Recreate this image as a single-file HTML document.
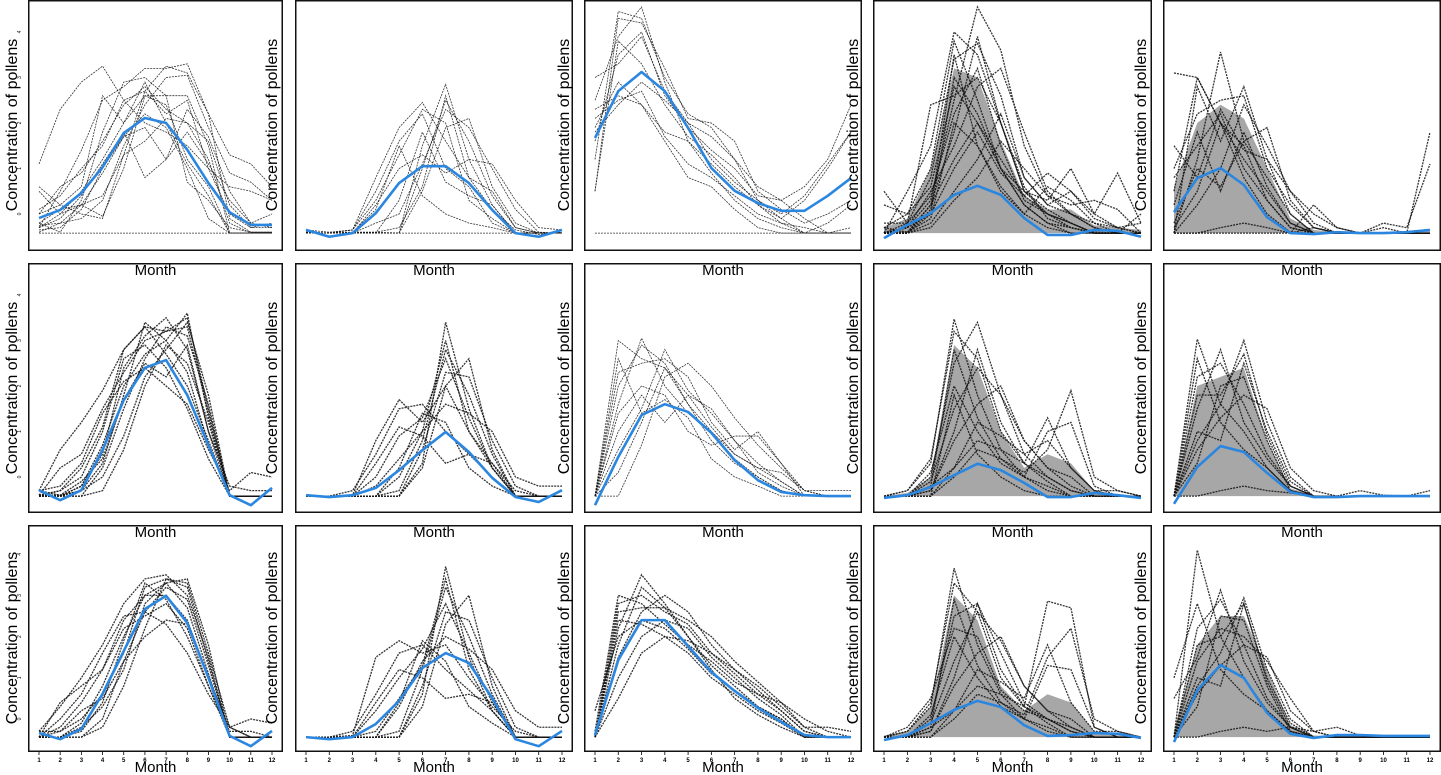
<!DOCTYPE html>
<html><head><meta charset="utf-8"><style>
html,body{margin:0;padding:0;background:#fff;}
svg{display:block;font-family:"Liberation Sans",Arial,sans-serif;}
</style></head><body>
<svg id="chart" width="1441" height="775" viewBox="0 0 1441 775" xmlns="http://www.w3.org/2000/svg"></svg>
<script>
// ---- data (concentration units) ----
const months = [1,2,3,4,5,6,7,8,9,10,11,12];
const yTicks = [0,1,2,3,4];
const mean1 = [-0.09,0.09,0.46,1.03,1.78,2.11,2.0,1.41,0.68,0.04,-0.24,-0.24];
const mean2 = [-0.35,-0.5,-0.42,0.02,0.68,1.05,1.05,0.68,0.09,-0.42,-0.5,-0.35];
const mean3 = [1.67,2.70,3.12,2.70,1.89,1.01,0.51,0.24,0.07,0.07,0.40,0.79];
const mean4 = [-0.53,-0.24,0.02,0.42,0.62,0.42,-0.09,-0.46,-0.46,-0.35,-0.37,-0.5];
const mean5 = [0.04,0.79,1.01,0.64,-0.07,-0.42,-0.44,-0.40,-0.42,-0.42,-0.40,-0.35];
const mean6 = [-0.29,-0.51,-0.29,0.59,1.69,2.40,2.57,1.80,0.70,-0.40,-0.62,-0.24];
const mean7 = [-0.4,-0.44,-0.4,-0.24,0.15,0.59,0.99,0.55,-0.02,-0.44,-0.55,-0.29];
const mean8 = [-0.62,0.44,1.36,1.60,1.43,0.97,0.37,-0.07,-0.33,-0.40,-0.42,-0.42];
const mean9 = [-0.46,-0.4,-0.22,0.04,0.29,0.15,-0.13,-0.44,-0.44,-0.35,-0.4,-0.46];
const mean10 = [-0.59,0.22,0.68,0.55,0.09,-0.33,-0.44,-0.44,-0.42,-0.42,-0.42,-0.42];
const mean11 = [-0.34,-0.49,-0.24,0.61,1.65,2.67,2.99,2.33,1.0,-0.41,-0.66,-0.29];
const mean12 = [-0.44,-0.49,-0.44,-0.12,0.44,1.24,1.6,1.36,0.51,-0.49,-0.66,-0.29];
const mean13 = [-0.39,1.43,2.4,2.4,1.77,1.14,0.68,0.27,-0.07,-0.39,-0.44,-0.44];
const mean14 = [-0.51,-0.39,-0.1,0.22,0.44,0.29,-0.15,-0.41,-0.39,-0.34,-0.36,-0.46];
const mean15 = [-0.56,0.70,1.31,1.0,0.15,-0.36,-0.46,-0.39,-0.39,-0.41,-0.41,-0.41];

// dense-core upper envelopes (null = no core)
const core4 = [-0.3,-0.1,1.0,3.2,3.0,1.6,0.4,0.1,0.1,-0.25,-0.3,-0.35];
const core5 = [0.6,2.0,2.4,2.1,1.0,-0.1,-0.35,-0.4,-0.4,-0.4,-0.4,-0.38];
const core9 = [-0.42,-0.35,0.0,2.9,2.4,1.0,0.2,0.5,0.3,-0.3,-0.38,-0.42];
const core10 = [-0.42,2.0,2.2,2.4,0.8,-0.25,-0.4,-0.42,-0.42,-0.42,-0.42,-0.42];
const core14 = [-0.4,-0.3,0.3,3.0,2.4,0.8,0.2,0.6,0.4,-0.3,-0.4,-0.44];
const core15 = [-0.3,1.8,2.5,2.5,1.2,-0.15,-0.4,-0.42,-0.42,-0.44,-0.44,-0.44];
const baselines = [-0.42,-0.42,-0.44];

const lines1 = [
[1.1,2.3,2.9,3.25,2.5,2.0,1.8,1.5,1.0,0.6,0.5,0.3],
[0.6,0.2,0,-0.1,1.3,2.7,3.25,3.1,2.2,1.3,1.1,0.6],
[-0.3,0.5,1.4,2.5,2.8,3.2,3.2,3.3,2.2,-0.1,-0.4,-0.4],
[-0.2,-0.4,0.3,1.8,2.9,3.0,2.6,2.6,1.5,-0.42,-0.42,-0.42],
[0.1,0.4,1.0,1.5,2.5,2.7,2.2,2.5,1.0,0,-0.3,-0.3],
[-0.3,0,0.5,1.2,2.0,2.6,2.4,1.2,0.6,-0.42,-0.42,-0.42],
[-0.35,-0.3,0.1,1.0,1.7,1.9,1.2,1.8,1.1,0.3,-0.2,0.0],
[0.0,0.6,0.9,1.6,2.4,2.8,2.3,2.0,1.6,0.2,-0.3,-0.2],
[-0.4,-0.2,0.2,0.4,1.3,1.6,2.1,2.0,1.2,-0.2,-0.42,-0.42],
[-0.2,0.1,0.2,-0.05,1.0,2.6,2.6,0.7,0.3,-0.3,-0.4,-0.4],
[-0.3,-0.1,0.4,1.1,1.8,0.8,1.2,2.3,1.7,0.5,-0.2,-0.3],
[0.0,0.2,0.6,2.6,2.0,2.9,2.0,1.1,0.4,-0.42,-0.42,-0.42],
[-0.42,-0.42,-0.42,-0.42,-0.42,-0.42,-0.42,-0.42,-0.42,-0.42,-0.42,-0.42],
[-0.25,-0.2,-0.1,0.3,1.5,2.4,3.0,3.05,1.9,0.9,0.7,0.3],
[0.5,0.0,0.2,0.9,1.7,2.2,1.9,1.0,-0.1,-0.42,-0.42,-0.42]];
const lines2 = [
[-0.35,-0.4,-0.35,0.8,1.9,2.45,1.6,0.8,0.1,-0.35,-0.45,-0.4],
[-0.4,-0.42,-0.35,0.5,1.6,2.2,1.0,0.6,-0.2,-0.42,-0.42,-0.42],
[-0.42,-0.42,-0.42,-0.42,-0.42,1.5,2.85,1.2,0.2,-0.42,-0.42,-0.42],
[-0.42,-0.42,-0.4,-0.4,-0.42,1.0,2.5,1.6,0.4,-0.3,-0.42,-0.42],
[-0.4,-0.42,-0.35,0.3,1.3,2.3,2.0,0.3,-0.1,-0.42,-0.42,-0.42],
[-0.42,-0.42,-0.42,-0.2,0.0,1.1,2.3,1.9,1.0,0.1,-0.4,-0.42],
[-0.4,-0.42,-0.42,0.2,1.0,1.3,0.9,1.2,1.1,0.3,-0.3,-0.35],
[-0.42,-0.42,-0.42,-0.42,-0.42,0.5,1.9,2.1,0.6,-0.2,-0.42,-0.42],
[-0.42,-0.42,-0.4,0.1,1.5,0.4,0.0,-0.2,-0.3,-0.42,-0.42,-0.42],
[-0.42,-0.42,-0.42,-0.42,0.3,1.8,0.7,0.4,0.2,-0.42,-0.42,-0.42],
[-0.42,-0.42,-0.42,-0.42,-0.42,-0.42,-0.42,-0.42,-0.42,-0.42,-0.42,-0.42],
[-0.42,-0.42,-0.42,-0.4,-0.3,0.6,2.6,0.8,0.5,-0.3,-0.42,-0.42]];
const lines3 = [
[1.2,4.45,4.3,3.0,2.2,1.9,1.2,0.3,-0.1,-0.42,-0.42,-0.42],
[2.5,3.9,4.55,2.9,1.6,0.9,0.3,-0.1,-0.3,-0.42,-0.42,-0.42],
[0.5,4.3,4.2,3.2,2.1,2.0,1.6,0.5,0.1,-0.2,0.0,0.3],
[3.0,3.3,3.9,2.7,2.0,1.2,0.7,0.3,0.0,0.4,1.1,1.8],
[1.8,2.4,2.9,2.5,2.0,1.7,1.2,0.6,0.3,0.6,1.2,2.4],
[2.3,2.6,2.4,1.8,1.6,1.1,0.6,0.2,-0.1,0.3,1.0,1.8],
[1.9,2.9,2.4,1.6,0.8,0.6,0.1,-0.3,-0.42,-0.42,-0.2,0.2],
[0.5,3.8,3.3,2.4,1.7,1.3,0.8,0.2,-0.2,-0.42,-0.42,-0.42],
[2.1,2.5,2.7,1.7,1.1,0.8,0.4,0.0,-0.2,-0.3,-0.42,-0.3],
[1.6,3.5,4.0,2.6,1.9,1.4,1.0,0.4,0.3,-0.1,-0.42,-0.42],
[-0.42,-0.42,-0.42,-0.42,-0.42,-0.42,-0.42,-0.42,-0.42,-0.42,-0.42,-0.42]];
const lines4 = [
[-0.42,0.5,1.5,4.0,3.5,2.0,0.5,0.0,-0.2,-0.42,-0.42,-0.42],
[-0.3,0.0,1.0,3.8,2.5,1.0,0.2,-0.2,-0.3,-0.4,-0.42,-0.42],
[-0.42,-0.2,0.8,3.4,3.75,2.6,0.8,0.2,0.0,-0.3,-0.42,-0.42],
[-0.42,-0.3,0.3,2.5,4.55,3.6,1.5,0.4,0.0,-0.2,-0.3,-0.42],
[0.5,-0.2,2.4,2.6,3.0,2.0,0.6,-0.1,-0.3,-0.42,-0.42,-0.42],
[-0.42,-0.42,0.0,3.0,2.2,1.0,0.2,-0.2,-0.42,-0.42,-0.42,-0.42],
[-0.42,-0.3,0.5,1.5,2.8,3.2,1.8,0.5,0.0,-0.3,-0.42,-0.42],
[-0.4,-0.4,-0.1,2.0,1.5,0.6,0.0,0.6,0.3,-0.2,-0.42,-0.42],
[-0.42,-0.42,0.2,1.2,2.0,1.0,0.5,0.3,1.0,0.0,-0.3,-0.42],
[-0.2,-0.2,0.4,2.2,3.2,1.5,0.3,0.0,-0.2,-0.42,-0.42,-0.42],
[-0.42,-0.42,-0.2,0.5,1.2,2.2,0.8,0.2,0.5,-0.1,-0.3,-0.2],
[-0.42,-0.3,0.0,1.0,1.8,0.9,0.4,0.9,0.5,0.0,0.9,-0.2],
[0.2,0.0,0.6,2.8,2.0,1.2,0.4,0.0,-0.3,-0.42,-0.42,0.0],
[-0.42,-0.42,0.1,3.5,1.5,0.5,0.0,-0.3,-0.42,-0.42,-0.42,-0.42],
[-0.3,-0.4,0.2,1.8,3.9,2.0,0.5,0.1,-0.2,-0.42,-0.42,-0.42],
[-0.42,-0.42,-0.3,0.3,0.8,1.6,1.0,0.4,0.2,0.3,0.1,-0.42]];
const lines5 = [
[3.1,3.0,2.0,1.2,0.5,-0.2,-0.42,-0.42,-0.42,-0.42,-0.42,-0.42],
[0.5,3.0,2.0,1.5,0.3,-0.3,-0.42,-0.42,-0.42,-0.42,-0.42,-0.42],
[-0.42,1.2,3.56,1.6,0.8,0.0,-0.42,-0.42,-0.42,-0.42,-0.42,-0.42],
[1.0,2.2,2.5,2.6,1.0,0.2,-0.3,-0.42,-0.42,-0.42,-0.42,-0.42],
[-0.42,2.8,1.6,2.8,1.2,0.0,-0.42,-0.42,-0.42,-0.42,-0.42,-0.42],
[0.8,1.5,2.2,1.0,0.3,-0.3,-0.42,-0.42,-0.42,-0.42,-0.42,-0.42],
[-0.42,0.2,1.0,2.4,1.5,0.5,-0.2,-0.42,-0.42,-0.42,-0.42,-0.42],
[0.2,1.8,0.5,1.8,0.6,-0.2,-0.42,-0.42,-0.42,-0.42,-0.42,-0.42],
[-0.3,0.5,2.0,0.8,0.0,-0.4,-0.42,-0.42,-0.42,-0.42,-0.42,-0.42],
[1.5,0.8,2.3,1.4,1.2,0.5,0.0,-0.3,-0.42,-0.42,-0.42,-0.42],
[-0.42,-0.42,-0.3,-0.2,-0.3,-0.42,0.2,-0.3,-0.42,-0.3,-0.42,1.8],
[-0.42,-0.42,-0.42,-0.42,-0.42,-0.42,-0.3,-0.4,-0.42,-0.2,-0.3,1.1],
[-0.2,1.0,0.6,1.6,1.9,0.3,-0.3,-0.42,-0.42,-0.42,-0.42,-0.42]];
const lines6 = [
[-0.4,-0.4,-0.3,0.3,1.8,3.4,3.0,3.6,1.3,-0.42,-0.42,-0.42],
[-0.3,0.6,1.2,1.9,2.8,3.3,3.2,3.5,1.5,-0.42,-0.42,-0.42],
[-0.42,-0.42,-0.2,0.5,2.4,3.1,3.5,2.8,1.0,-0.42,-0.42,-0.42],
[-0.4,-0.3,0.0,1.0,2.6,2.9,2.4,1.5,0.4,-0.42,-0.42,-0.42],
[-0.42,-0.42,-0.42,0.2,1.5,2.6,3.3,3.1,1.6,-0.42,-0.42,-0.42],
[-0.3,-0.2,0.3,1.4,2.1,2.4,2.0,1.6,0.6,-0.3,0.1,0.0],
[-0.42,-0.42,-0.3,0.0,0.9,2.2,2.8,3.4,1.8,-0.42,-0.42,-0.42],
[-0.42,-0.3,0.2,1.1,2.8,3.3,2.7,2.0,0.8,-0.42,-0.42,-0.42],
[-0.42,-0.42,-0.42,-0.3,0.6,2.0,2.9,2.5,1.2,-0.42,-0.42,-0.42],
[-0.4,0.2,0.5,1.5,2.3,3.0,3.2,3.3,1.4,-0.42,-0.42,-0.42],
[-0.42,-0.42,-0.2,0.7,2.0,2.7,3.0,2.3,0.7,-0.42,-0.42,-0.42],
[-0.3,-0.4,-0.1,0.4,1.7,2.5,2.2,2.9,1.0,-0.2,-0.3,-0.3]];
const lines7 = [
[-0.42,-0.42,-0.42,-0.42,-0.42,0.3,3.4,1.5,0.2,-0.42,-0.42,-0.42],
[-0.42,-0.42,-0.42,-0.42,-0.3,0.8,2.8,1.8,0.5,-0.42,-0.42,-0.42],
[-0.42,-0.42,-0.4,0.8,1.7,1.2,2.0,1.0,0.3,-0.3,-0.42,-0.42],
[-0.42,-0.42,-0.3,0.5,1.5,1.6,1.0,0.5,0.0,-0.42,-0.42,-0.42],
[-0.42,-0.42,-0.42,-0.42,-0.42,0.6,2.3,2.2,0.8,-0.2,-0.42,-0.42],
[-0.42,-0.42,-0.42,0.0,0.9,1.3,2.6,1.3,0.2,-0.42,-0.42,-0.42],
[-0.42,-0.42,-0.42,-0.42,0.0,1.0,1.6,1.4,1.0,0.0,-0.2,-0.2],
[-0.42,-0.42,-0.42,0.3,1.1,0.9,0.3,0.5,0.3,-0.42,-0.42,-0.42],
[-0.42,-0.42,-0.42,-0.42,-0.42,0.2,2.0,2.6,0.6,-0.42,-0.42,-0.42],
[-0.42,-0.42,-0.42,-0.2,0.4,1.0,3.0,1.0,0.2,-0.42,-0.42,-0.42],
[-0.42,-0.42,-0.42,-0.42,0.2,1.4,1.2,0.2,-0.2,-0.42,-0.42,-0.42]];
const lines8 = [
[-0.42,3.0,2.6,2.4,1.6,0.8,0.3,0.0,-0.3,-0.42,-0.42,-0.42],
[-0.42,1.6,3.05,2.0,1.4,1.0,0.4,0.0,-0.3,-0.42,-0.42,-0.42],
[-0.42,2.3,2.5,2.6,2.2,1.2,0.6,1.0,0.3,-0.3,-0.42,-0.42],
[-0.42,0.6,1.5,2.8,1.9,1.4,0.8,0.3,-0.1,-0.42,-0.42,-0.42],
[-0.42,-0.42,0.7,2.2,2.5,2.0,1.3,0.7,0.2,-0.3,-0.42,-0.42],
[-0.42,1.4,2.0,1.8,1.0,0.7,0.9,0.9,0.3,-0.42,-0.42,-0.42],
[-0.42,2.6,1.4,1.7,1.3,0.4,0.0,-0.2,-0.42,-0.42,-0.42,-0.42],
[-0.42,1.0,1.8,1.2,1.8,1.5,0.8,0.1,-0.2,-0.42,-0.42,-0.42],
[-0.42,2.0,2.9,2.5,1.6,1.0,0.5,0.2,-0.1,-0.42,-0.42,-0.42],
[-0.42,0.1,1.2,2.4,1.8,1.1,0.5,0.2,0.1,-0.3,-0.3,-0.3]];
const lines9 = [
[-0.42,-0.3,0.3,3.47,1.8,0.6,0.0,-0.3,-0.42,-0.42,-0.42,-0.42],
[-0.42,-0.42,0.0,2.5,3.4,1.8,0.5,0.0,-0.3,-0.42,-0.42,-0.42],
[-0.42,-0.3,0.4,3.2,2.6,1.0,0.3,-0.1,-0.42,-0.42,-0.42,-0.42],
[-0.42,-0.42,-0.1,1.5,2.4,1.8,0.8,0.2,-0.2,-0.42,-0.42,-0.42],
[-0.42,-0.42,-0.42,0.2,0.8,0.6,0.3,1.3,0.2,-0.3,-0.42,-0.42],
[-0.42,-0.42,-0.42,0.0,0.6,0.4,0.1,0.6,1.9,0.0,-0.3,-0.42],
[-0.42,-0.42,-0.2,2.8,1.3,0.4,0.0,-0.2,-0.42,-0.42,-0.42,-0.42],
[-0.42,-0.42,-0.3,1.0,2.8,1.2,0.3,0.0,-0.3,-0.42,-0.42,-0.42],
[-0.42,-0.42,0.1,2.0,1.0,0.3,0.0,1.0,1.2,-0.2,-0.42,-0.42],
[-0.42,-0.42,-0.3,0.8,1.6,2.0,0.8,0.2,0.0,-0.42,-0.42,-0.42],
[-0.42,-0.42,-0.42,1.8,0.5,0.0,-0.3,-0.42,-0.42,-0.42,-0.42,-0.42],
[-0.42,-0.42,-0.2,0.2,1.2,0.9,0.5,0.8,0.2,-0.3,-0.3,-0.42]];
const lines10 = [
[-0.42,3.03,1.6,1.0,0.2,-0.3,-0.42,-0.42,-0.42,-0.42,-0.42,-0.42],
[-0.42,1.5,2.8,1.2,0.4,-0.2,-0.42,-0.42,-0.42,-0.42,-0.42,-0.42],
[-0.42,0.8,1.6,3.0,1.2,0.0,-0.42,-0.42,-0.42,-0.42,-0.42,-0.42],
[-0.42,2.2,2.5,1.6,0.5,-0.2,-0.42,-0.42,-0.42,-0.42,-0.42,-0.42],
[-0.42,1.0,0.8,2.5,1.0,-0.1,-0.42,-0.42,-0.42,-0.42,-0.42,-0.42],
[-0.42,0.3,2.0,2.2,0.8,-0.3,-0.42,-0.42,-0.42,-0.42,-0.42,-0.42],
[-0.42,2.6,1.2,0.6,0.2,-0.3,-0.42,-0.42,-0.42,-0.42,-0.42,-0.42],
[-0.42,0.6,1.3,1.8,1.5,0.2,-0.3,-0.42,-0.42,-0.42,-0.42,-0.42],
[-0.42,1.8,1.8,2.7,0.9,-0.2,-0.42,-0.42,-0.42,-0.42,-0.42,-0.42],
[-0.42,-0.42,-0.3,-0.2,-0.3,-0.35,-0.42,-0.42,-0.3,-0.4,-0.42,-0.3]];
const lines11 = [
[-0.44,-0.3,0.0,0.6,1.6,3.2,3.4,3.2,1.4,-0.44,-0.44,-0.44],
[-0.3,0.3,1.0,1.8,2.8,3.4,3.5,3.0,1.5,-0.44,-0.44,-0.44],
[-0.44,-0.44,-0.2,0.3,1.2,2.8,3.3,3.4,1.8,-0.44,-0.44,-0.44],
[-0.44,-0.2,0.4,1.2,2.4,3.0,3.0,2.4,1.0,-0.44,-0.44,-0.44],
[-0.44,-0.44,-0.44,-0.2,0.8,2.2,3.4,3.3,1.6,-0.2,-0.44,-0.44],
[-0.44,0.0,0.6,1.6,2.5,2.6,2.3,1.6,0.6,-0.2,0.0,-0.1],
[-0.44,-0.44,-0.3,0.4,1.9,3.3,2.9,2.0,0.8,-0.44,-0.44,-0.44],
[-0.44,-0.44,-0.44,0.0,1.4,2.6,3.2,2.9,1.3,-0.44,-0.44,-0.44],
[-0.44,0.4,0.8,1.2,2.2,2.5,2.8,2.2,0.8,-0.3,-0.3,-0.44],
[-0.44,-0.44,-0.1,0.8,2.0,3.0,3.3,2.7,1.1,-0.44,-0.44,-0.44],
[-0.3,-0.3,0.2,0.5,1.4,2.0,2.4,2.3,1.0,-0.2,-0.44,-0.44]];
const lines12 = [
[-0.44,-0.44,-0.44,-0.44,-0.44,0.6,3.7,1.5,0.2,-0.44,-0.44,-0.44],
[-0.44,-0.44,-0.44,-0.44,-0.3,1.2,3.2,2.0,0.6,-0.44,-0.44,-0.44],
[-0.44,-0.44,-0.4,1.5,1.9,1.6,1.8,1.0,0.3,-0.3,-0.44,-0.44],
[-0.44,-0.44,-0.3,0.6,1.6,1.8,1.2,0.7,0.2,-0.44,-0.44,-0.44],
[-0.44,-0.44,-0.44,-0.44,-0.44,0.8,2.6,2.4,1.0,-0.2,-0.44,-0.44],
[-0.44,-0.44,-0.44,0.2,1.0,1.7,2.8,1.6,0.4,-0.44,-0.44,-0.44],
[-0.44,-0.44,-0.44,-0.44,0.3,1.4,2.0,1.7,1.2,0.2,-0.2,-0.2],
[-0.44,-0.44,-0.44,0.4,1.2,1.0,0.5,0.6,0.4,-0.44,-0.44,-0.44],
[-0.44,-0.44,-0.44,-0.44,-0.44,0.3,2.3,3.0,0.8,-0.44,-0.44,-0.44],
[-0.44,-0.44,-0.44,-0.3,0.5,1.3,3.4,1.2,0.2,-0.44,-0.44,-0.44],
[-0.44,-0.44,-0.44,-0.44,0.4,1.9,1.4,0.3,-0.1,-0.44,-0.44,-0.44]];
const lines13 = [
[-0.44,2.2,3.5,2.8,2.0,1.3,0.8,0.3,0.0,-0.44,-0.44,-0.44],
[-0.44,2.8,3.0,2.6,2.3,1.6,1.1,0.6,0.2,-0.3,-0.44,-0.44],
[-0.44,1.5,2.6,3.0,2.6,1.8,1.2,0.7,0.2,-0.3,-0.44,-0.44],
[-0.44,2.4,2.3,2.0,1.6,1.0,0.6,0.2,-0.1,-0.44,-0.44,-0.44],
[-0.44,1.0,2.0,2.4,2.2,1.5,1.0,0.5,0.1,-0.44,-0.44,-0.44],
[-0.3,3.0,2.8,2.3,1.8,1.4,0.9,0.6,0.4,0.0,-0.3,-0.44],
[-0.44,1.8,3.2,2.7,2.0,1.2,0.5,0.1,-0.2,-0.44,-0.44,-0.44],
[-0.44,0.5,1.6,2.0,1.9,1.6,1.2,0.8,0.3,-0.2,-0.44,-0.44],
[-0.44,2.6,2.7,2.7,2.4,2.0,1.4,0.9,0.4,-0.2,-0.2,-0.3],
[0.2,2.0,2.4,2.2,1.7,1.1,0.7,0.3,0.0,-0.44,-0.44,-0.44]];
const lines14 = [
[-0.44,-0.3,0.3,3.66,1.8,0.6,0.0,-0.3,-0.44,-0.44,-0.44,-0.44],
[-0.44,-0.44,0.0,2.5,2.8,1.6,0.4,0.0,-0.3,-0.44,-0.44,-0.44],
[-0.44,-0.3,0.4,3.3,2.6,1.0,0.3,-0.1,-0.44,-0.44,-0.44,-0.44],
[-0.44,-0.44,-0.1,1.4,2.6,1.9,0.8,0.2,-0.2,-0.44,-0.44,-0.44],
[-0.44,-0.44,-0.44,0.2,0.8,0.6,0.3,2.86,2.7,-0.2,-0.44,-0.44],
[-0.44,-0.44,-0.44,0.0,0.6,0.4,0.1,1.5,2.2,0.0,-0.3,-0.44],
[-0.44,-0.44,-0.2,2.9,1.3,0.4,0.0,-0.2,-0.44,-0.44,-0.44,-0.44],
[-0.44,-0.44,-0.3,1.0,2.8,1.2,0.3,0.0,-0.3,-0.44,-0.44,-0.44],
[-0.44,-0.44,0.1,2.0,1.0,0.3,0.0,1.3,1.2,-0.2,-0.44,-0.44],
[-0.44,-0.44,-0.3,0.8,1.6,2.0,0.8,0.2,0.0,-0.44,-0.44,-0.44],
[-0.44,-0.44,-0.2,0.2,1.2,0.9,0.5,1.8,0.4,-0.3,-0.3,-0.44],
[-0.44,-0.2,0.5,2.2,2.0,0.7,0.2,0.0,-0.2,-0.44,-0.44,-0.44]];
const lines15 = [
[-0.44,4.1,2.0,1.0,0.2,-0.3,-0.44,-0.44,-0.44,-0.44,-0.44,-0.44],
[0.5,1.5,3.13,1.4,0.4,-0.2,-0.44,-0.44,-0.44,-0.44,-0.44,-0.44],
[-0.44,0.8,1.6,2.94,1.2,0.0,-0.44,-0.44,-0.44,-0.44,-0.44,-0.44],
[-0.44,2.2,2.9,1.8,0.5,-0.2,-0.44,-0.44,-0.44,-0.44,-0.44,-0.44],
[-0.44,1.0,0.8,2.8,1.0,-0.1,-0.44,-0.44,-0.44,-0.44,-0.44,-0.44],
[-0.44,0.3,2.5,2.4,0.8,-0.3,-0.44,-0.44,-0.44,-0.44,-0.44,-0.44],
[1.0,2.8,1.2,0.6,0.2,-0.3,-0.44,-0.44,-0.44,-0.44,-0.44,-0.44],
[-0.44,0.6,1.3,1.8,1.5,0.2,-0.3,-0.44,-0.44,-0.44,-0.44,-0.44],
[-0.44,1.8,2.0,2.8,0.9,-0.2,-0.44,-0.44,-0.44,-0.44,-0.44,-0.44],
[-0.44,-0.44,-0.3,-0.2,-0.3,-0.2,-0.3,-0.2,-0.4,-0.44,-0.44,-0.44],
[-0.44,1.4,2.2,2.0,1.4,0.5,-0.3,-0.44,-0.44,-0.44,-0.44,-0.44]];

const means = [mean1,mean2,mean3,mean4,mean5,mean6,mean7,mean8,mean9,mean10,mean11,mean12,mean13,mean14,mean15];
const lineSets = [lines1,lines2,lines3,lines4,lines5,lines6,lines7,lines8,lines9,lines10,lines11,lines12,lines13,lines14,lines15];
const cores = [null,null,null,core4,core5,null,null,null,core9,core10,null,null,null,core14,core15];
const denseLines = [false,false,false,true,true,true,true,false,true,true,true,true,true,true,true];

// ---- layout ----
const boxL = [28,295,584,873,1163], boxR = [283,573,862,1152,1441];
const boxT = [0,263,525], boxB = [251,513,752];
const zeroY = [214,477,719], unitPx = [45.5,45.5,41.2];
const ylabX = [17,277,569,858,1146];
const ylabY = [125,388,638];

const NS = "http://www.w3.org/2000/svg";
const svg = document.getElementById('chart');
function mk(tag, attrs, parent){ const e=document.createElementNS(NS,tag); for(const k in attrs) e.setAttribute(k,attrs[k]); (parent||svg).appendChild(e); return e; }

for(let r=0;r<3;r++){
  for(let c=0;c<5;c++){
    const idx=r*5+c;
    const g=mk('g',{});
    
    
    const x1=boxL[c]+11, x12=boxR[c]-11;
    const xs=m=>x1+(m-1)*(x12-x1)/11;
    const ys=v=>zeroY[r]-v*unitPx[r];
    const box=mk('rect',{x:boxL[c]+0.75,y:boxT[r]+0.75,width:boxR[c]-boxL[c]-1.5,height:boxB[r]-boxT[r]-1.5,fill:'none',stroke:'#111','stroke-width':1.5},g);
    
    
    const core=cores[idx];
    if(core){
      const top=core.map((v,j)=>xs(months[j])+','+ys(v));
      const bot=months.slice().reverse().map(m=>xs(m)+','+ys(baselines[r]));
      const cp=mk('polygon',{points:top.concat(bot).join(' '),fill:'#222','fill-opacity':0.4,stroke:'none'},g);
      
      
    }
    const sw = denseLines[idx]?1.3:0.8;
    lineSets[idx].forEach(ln=>{
      const p=mk('polyline',{points:ln.map((v,j)=>xs(months[j])+','+ys(v)).join(' '),fill:'none',stroke:'#111','stroke-width':sw,'stroke-dasharray':'2 1','stroke-opacity':0.85},g);
      
      
    });
    const mp=mk('polyline',{points:means[idx].map((v,j)=>xs(months[j])+','+ys(v)).join(' '),fill:'none',stroke:'#2b86e0','stroke-width':2.6,'stroke-linejoin':'round'},g);
    
    
    const yl=mk('text',{x:ylabX[c],y:ylabY[r],transform:'rotate(-90 '+ylabX[c]+' '+ylabY[r]+')','text-anchor':'middle','font-size':16,fill:'#000'},g);
    yl.textContent='Concentration of pollens';
    
    
    const mY = r<2 ? boxT[r+1]+12 : 772;
    const ml=mk('text',{x:(boxL[c]+boxR[c])/2,y:mY,'text-anchor':'middle','font-size':15,fill:'#000'},g);
    ml.textContent='Month';
    
    
    if(c===0){
      yTicks.forEach(t=>{
        const tt=mk('text',{x:21,y:ys(t),transform:'rotate(-90 21 '+ys(t)+')','text-anchor':'middle','font-size':5,fill:'#000'},g);
        tt.textContent=String(t);
        
        
      });
    }
    if(r===2){
      months.forEach(m=>{
        const tm=mk('line',{x1:xs(m),x2:xs(m),y1:752,y2:755,stroke:'#000','stroke-width':0.8},g);
        
        
        const tl=mk('text',{x:xs(m),y:762,'text-anchor':'middle','font-size':6,'font-weight':'bold',fill:'#000'},g);
        tl.textContent=String(m);
        
        
      });
    }
  }
}
</script>
</body></html>
